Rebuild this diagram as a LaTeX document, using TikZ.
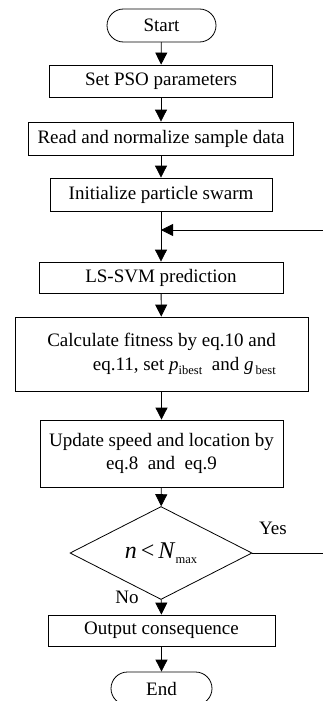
\documentclass[tikz,border=0pt]{standalone}
\usepackage{fontspec}
\setmainfont{Liberation Serif}
\usetikzlibrary{arrows.meta,shapes.misc,shapes.geometric}
\tikzset{
  box/.style={draw, line width=0.8pt, inner sep=0pt, align=center, font=\fontsize{19}{23.5}\selectfont},
  term/.style={box, rounded rectangle},
  flow/.style={line width=0.8pt, -{Triangle[width=12pt,length=12pt]}},
  lbl/.style={font=\fontsize{19}{23}\selectfont, inner sep=0pt}
}
\newcommand{\subsc}[1]{\raisebox{-0.45ex}{\fontsize{12.5}{12.5}\selectfont #1}}
\begin{document}
\begin{tikzpicture}[x=1pt,y=-1pt]
\useasboundingbox (0,0) rectangle (323,701);
\node[term, minimum width=109pt, minimum height=33pt] (start) at (161.5,25.5) {Start};
\node[box, minimum width=223pt, minimum height=32pt] (pso) at (161,81) {Set PSO parameters};
\node[box, minimum width=265pt, minimum height=33pt] (read) at (161,138.5) {Read and normalize sample data};
\node[box, minimum width=222pt, minimum height=33pt] (init) at (161,194.5) {Initialize particle swarm};
\coordinate (j) at (161,230);
\node[box, minimum width=244pt, minimum height=31pt] (ls) at (161,277.5) {LS-SVM prediction};
\node[box, minimum width=293pt, minimum height=74pt, align=right] (calc) at (161.5,354) {Calculate fitness by eq.10 and\\eq.11, set \textit{p}\subsc{ibest}\ \ and \textit{g}\subsc{\,best}};
\node[box, minimum width=243pt, minimum height=67pt] (upd) at (161.5,453.5) {Update speed and location by\\eq.8\ \ and\ \ eq.9};
\node[box, diamond, minimum width=182pt, minimum height=72pt] (dec) at (161,553) {\fontsize{24}{24}\selectfont\textit{n}\,<\,\textit{N}\subsc{max}};
\node[box, minimum width=227pt, minimum height=31pt] (out) at (161.5,630.5) {Output consequence};
\node[term, minimum width=101pt, minimum height=33pt] (end) at (161.5,688.5) {End};
\coordinate (r1) at (335,553);
\coordinate (r2) at (335,230);
\draw[flow] (start) -- (pso);
\draw[flow] (pso) -- (read);
\draw[flow] (read) -- (init);
\draw[flow] (init) -- (ls);
\draw[flow] (ls) -- (calc);
\draw[flow] (calc) -- (upd);
\draw[flow] (upd) -- (dec);
\draw[flow] (dec) -- (out);
\draw[flow] (out) -- (end);
\draw[flow] (dec.east) -- (r1) -- (r2) -- (j);
\node[lbl] (yes) at (273,528) {Yes};
\node[lbl] (no) at (127,597) {No};
\end{tikzpicture}
\end{document}
